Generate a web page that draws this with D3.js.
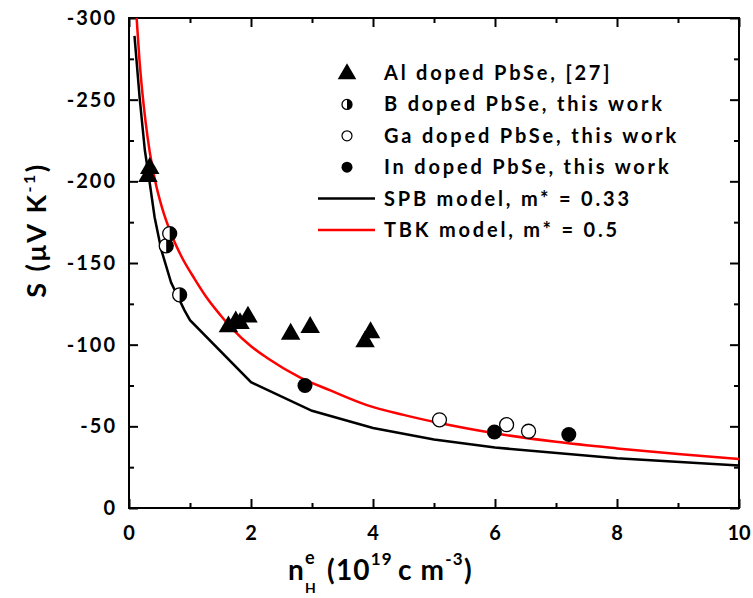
<!DOCTYPE html>
<html>
<head>
<meta charset="utf-8">
<script src="https://cdn.jsdelivr.net/npm/d3@7"></script>
<style>
  body { margin: 0; background: #fff; }
  text { font-family: Lato, "Open Sans", sans-serif; font-weight: bold; fill: #000; }
</style>
</head>
<body>
<div id="chart"></div>
<script>
// S vs n_H for doped PbSe

var width = 753;
var height = 598;

// measured points
var alX   = [0.31, 0.34, 1.63, 1.75, 1.82, 1.95, 2.65, 2.97, 3.87, 3.96];
var alS   = [-203, -208, -111, -114, -113, -117, -106.5, -110.6, -101.8, -107.4];
var bX    = [0.61, 0.667, 0.83];
var bS    = [-160.5, -168, -130.5];
var gaX   = [5.09, 6.19, 6.55];
var gaS   = [-54, -51, -47];
var inX   = [2.885, 5.99, 7.21];
var inS   = [-75, -46.5, -45];

// model curves
var spbX  = [0.09, 0.175, 0.26, 0.34, 0.42, 0.53, 0.69, 0.91, 1.0, 2.0, 3.0, 4.0, 5.0, 6.0, 8.0, 10.0];
var spbS  = [-289, -251, -219, -199, -178, -158, -138, -121, -115, -77, -59.5, -49, -42, -37, -30.5, -26];
var tbkX  = [0.125, 0.17, 0.22, 0.27, 0.34, 0.43, 0.54, 0.7, 0.86, 1.08, 1.27, 1.5, 1.71, 2.0, 2.26, 2.8, 3.3, 3.9, 4.5, 5.09, 6.0, 7.0, 8.0, 9.0, 10.0];
var tbkS  = [-300, -275, -254, -237, -218, -200, -184, -167, -154, -140, -129, -118, -109, -99, -92, -80, -72, -63, -57, -52, -45.7, -40.5, -36.5, -33, -30];

var xTicks = [0, 2, 4, 6, 8, 10];
var yTicks = [0, -50, -100, -150, -200, -250, -300];

var legendLabels = ["Al doped PbSe, [27]", "B doped PbSe, this work", "Ga doped PbSe, this work",
                    "In doped PbSe, this work", "SPB model, m* = 0.33", "TBK model, m* = 0.5"];

var margin = {left: 129, right: 14, top: 18, bottom: 90};
var x = d3.scaleLinear().domain([0, 10]).range([margin.left, width - margin.right]);
var y = d3.scaleLinear().domain([0, -300]).range([height - margin.bottom, margin.top]);

var svg = d3.select("#chart").append("svg")
    .attr("width", width)
    .attr("height", height);

svg.append("clipPath").attr("id", "plot")
  .append("rect")
    .attr("x", x(0)).attr("y", y(-300))
    .attr("width", x(10) - x(0)).attr("height", y(0) - y(-300));

function zip(xs, ys) { return xs.map(function(v, i) { return {x: v, s: ys[i]}; }); }

// axes, ticks pointing inward on all four sides
function axisTicks(axis, ticks) {
  return axis.tickValues(ticks).tickSizeOuter(0).tickFormat("");
}
var xMinor = d3.range(1, 10, 2);
var yMinor = d3.range(-25, -300, -50);

[[d3.axisTop(x), y(0), xTicks, 9], [d3.axisTop(x), y(0), xMinor, 5],
 [d3.axisBottom(x), y(-300), xTicks, 9], [d3.axisBottom(x), y(-300), xMinor, 5]].forEach(function(a) {
  svg.append("g").attr("transform", "translate(0," + a[1] + ")")
    .call(axisTicks(a[0], a[2]).tickSize(a[3]));
});
[[d3.axisRight(y), x(0), yTicks, 9], [d3.axisRight(y), x(0), yMinor, 5],
 [d3.axisLeft(y), x(10), yTicks, 9], [d3.axisLeft(y), x(10), yMinor, 5]].forEach(function(a) {
  svg.append("g").attr("transform", "translate(" + a[1] + ",0)")
    .call(axisTicks(a[0], a[2]).tickSize(a[3]));
});
svg.selectAll(".domain").remove();
svg.selectAll(".tick line").attr("stroke", "#000").attr("stroke-width", 2);

svg.append("rect")
    .attr("x", x(0)).attr("y", y(-300))
    .attr("width", x(10) - x(0)).attr("height", y(0) - y(-300))
    .attr("fill", "none").attr("stroke", "#000").attr("stroke-width", 2);

// tick labels
svg.append("g").selectAll("text").data(xTicks).enter().append("text")
    .attr("x", function(d) { return x(d); })
    .attr("y", y(0) + 32)
    .attr("text-anchor", "middle")
    .style("font-size", "20px")
    .text(function(d) { return d; });

svg.append("g").selectAll("text").data(yTicks).enter().append("text")
    .attr("x", x(0) - 12)
    .attr("y", function(d) { return y(d) + 7; })
    .attr("text-anchor", "end")
    .style("font-size", "20px")
    .style("letter-spacing", "2px")
    .text(function(d) { return d; });

// model lines
var line = d3.line()
    .x(function(d) { return x(d.x); })
    .y(function(d) { return y(d.s); });

var lines = svg.append("g").attr("clip-path", "url(#plot)");
lines.append("path").datum(zip(spbX, spbS))
    .attr("d", line).attr("fill", "none").attr("stroke", "#000").attr("stroke-width", 2.5);
lines.append("path").datum(zip(tbkX, tbkS))
    .attr("d", line.curve(d3.curveMonotoneX)).attr("fill", "none").attr("stroke", "#f00").attr("stroke-width", 2.5);

// markers
var tri = d3.symbol().type(d3.symbolTriangle).size(165);
svg.append("g").selectAll("path").data(zip(alX, alS)).enter().append("path")
    .attr("d", tri)
    .attr("transform", function(d) { return "translate(" + x(d.x) + "," + y(d.s) + ")"; })
    .attr("fill", "#000");

function halfCircle(g, r) {
  g.append("circle").attr("r", r).attr("fill", "#fff").attr("stroke", "#000").attr("stroke-width", 1.3);
  g.append("path")
    .attr("d", "M0," + (-r) + "A" + r + "," + r + " 0 0,1 0," + r + "Z")
    .attr("fill", "#000");
}

svg.append("g").selectAll("g").data(zip(bX, bS)).enter().append("g")
    .attr("transform", function(d) { return "translate(" + x(d.x) + "," + y(d.s) + ")"; })
    .each(function() { halfCircle(d3.select(this), 7); });

svg.append("g").selectAll("circle").data(zip(gaX, gaS)).enter().append("circle")
    .attr("cx", function(d) { return x(d.x); })
    .attr("cy", function(d) { return y(d.s); })
    .attr("r", 7)
    .attr("fill", "#fff").attr("stroke", "#000").attr("stroke-width", 1.3);

svg.append("g").selectAll("circle").data(zip(inX, inS)).enter().append("circle")
    .attr("cx", function(d) { return x(d.x); })
    .attr("cy", function(d) { return y(d.s); })
    .attr("r", 7.5)
    .attr("fill", "#000");

// legend
var legend = svg.append("g");
var rowY = function(i) { return 73 + i * 31.4; };
legend.append("path").attr("d", d3.symbol().type(d3.symbolTriangle).size(150))
    .attr("transform", "translate(347," + (rowY(0) + 1) + ")");
halfCircle(legend.append("g").attr("transform", "translate(347," + rowY(1) + ")"), 5);
legend.append("circle").attr("cx", 347).attr("cy", rowY(2)).attr("r", 5)
    .attr("fill", "#fff").attr("stroke", "#000").attr("stroke-width", 1.2);
legend.append("circle").attr("cx", 347).attr("cy", rowY(3)).attr("r", 5.5).attr("fill", "#000");
legend.append("line").attr("x1", 318).attr("x2", 375).attr("y1", rowY(4)).attr("y2", rowY(4))
    .attr("stroke", "#000").attr("stroke-width", 2.5);
legend.append("line").attr("x1", 318).attr("x2", 375).attr("y1", rowY(5)).attr("y2", rowY(5))
    .attr("stroke", "#f00").attr("stroke-width", 2.5);
legend.selectAll("text").data(legendLabels).enter().append("text")
    .attr("x", 384)
    .attr("y", function(d, i) { return rowY(i) + 7; })
    .style("font-size", "20px")
    .style("letter-spacing", "2.8px")
    .text(function(d) { return d; });

// y title
var yt = svg.append("text")
    .attr("transform", "translate(46,230) rotate(-90)")
    .attr("text-anchor", "middle")
    .style("font-size", "27px")
    .style("letter-spacing", "2.5px");
yt.append("tspan").text("S (\u03bcV K");
yt.append("tspan").attr("dy", -11).style("font-size", "16px").text("-1");
yt.append("tspan").attr("dy", 11).text(")");

// x title, pieces placed one after another
var xt = svg.append("g");
var cx = 288, base = 580;
function piece(str, size, dy) {
  var t = xt.append("text").attr("x", cx).attr("y", base + dy)
      .style("font-size", size + "px").style("letter-spacing", "1.2px").text(str);
  return t.node().getComputedTextLength();
}
var wn = piece("n", 28, 0);
cx += wn;
var we = piece("e", 18, -16);
var wh = piece("H", 14, 13);
cx += Math.max(we, wh) + 10;
cx += piece("(10", 28, 0);
cx += piece("19", 17, -15) + 5;
cx += piece("c m", 28, 0);
cx += piece("-3", 17, -15);
piece(")", 28, 0);
</script>
</body>
</html>
